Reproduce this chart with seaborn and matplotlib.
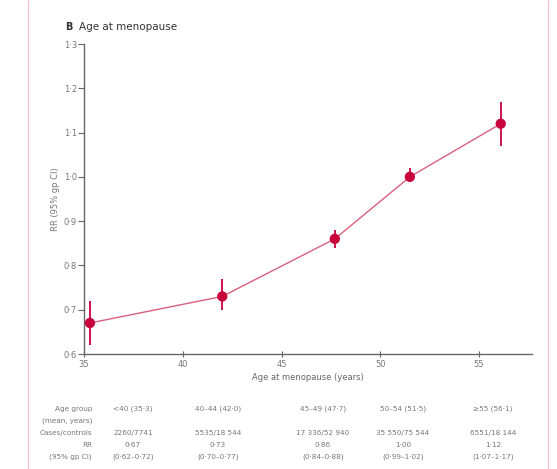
import matplotlib
matplotlib.use("Agg")
import matplotlib.pyplot as plt
import seaborn as sns
import pandas as pd
from matplotlib.lines import Line2D

# ---- data ----
mean_age = [35.3, 42.0, 47.7, 51.5, 56.1]
rr = [0.67, 0.73, 0.86, 1.00, 1.12]
ci_low = [0.62, 0.70, 0.84, 0.99, 1.07]
ci_high = [0.72, 0.77, 0.88, 1.02, 1.17]
age_groups = ["<40 (35·3)", "40–44 (42·0)", "45–49 (47·7)", "50–54 (51·5)", "≥55 (56·1)"]
cases_controls = ["2260/7741", "5535/18 544", "17 336/52 940", "35 550/75 544", "6551/18 144"]
rr_text = ["0·67", "0·73", "0·86", "1·00", "1·12"]
ci_text = ["(0·62–0·72)", "(0·70–0·77)", "(0·84–0·88)", "(0·99–1·02)", "(1·07–1·17)"]
yticks = [0.6, 0.7, 0.8, 0.9, 1.0, 1.1, 1.2, 1.3]
ytick_labels = ["0·6", "0·7", "0·8", "0·9", "1·0", "1·1", "1·2", "1·3"]
xticks = [35, 40, 45, 50, 55]

df = pd.DataFrame({"age": mean_age, "rr": rr, "lo": ci_low, "hi": ci_high})

sns.set_theme(style="white")
plt.rcParams['font.family'] = ['DejaVu Sans']

fig = plt.figure(figsize=(5.57, 4.69), dpi=100)
ax = fig.add_axes([84/557, 1-354/469, 448/557, 310/469])

red = "#c8003e"
sns.lineplot(data=df, x="age", y="rr", ax=ax, color="#d9607f", linewidth=1.0, zorder=2)
ax.vlines(df["age"], df["lo"], df["hi"], color=red, linewidth=1.3, zorder=3)
sns.scatterplot(data=df, x="age", y="rr", ax=ax, color=red, s=55, edgecolor="none", zorder=4)

ax.set_xlim(35, 35 + 448/19.75)
ax.set_ylim(0.6, 1.3)
ax.set_yticks(yticks)
ax.set_yticklabels(ytick_labels)
ax.set_xticks(xticks)
ax.set_xticklabels([str(x) for x in xticks])
for s in ["top", "right"]:
    ax.spines[s].set_visible(False)
for s in ["left", "bottom"]:
    ax.spines[s].set_color("#666666")
    ax.spines[s].set_linewidth(1.0)
ax.tick_params(axis="both", labelsize=6, colors="#666666", length=4, width=0.8,
               left=True, bottom=True, labelcolor="#777777")
ax.tick_params(axis="x", direction="inout", pad=2)
ax.tick_params(axis="y", direction="out", pad=1)
ax.set_xlabel("Age at menopause (years)", fontsize=6, color="#666666", labelpad=3)
ax.set_ylabel("RR (95% gp CI)", fontsize=6, color="#777777", labelpad=3)

fig.text(65/557, 1-27/469, "B", fontsize=7, fontweight="bold", color="#333333", va="center")
fig.text(79/557, 1-27/469, "Age at menopause", fontsize=7.5, color="#333333", va="center")

# table under the chart
label_x = 92/557
col_x = [133, 218, 323, 403, 493]
rows_y = [409, 421, 433, 445, 457]
tkw = dict(fontsize=5.2, color="#777777", va="center")
fig.text(label_x, 1-rows_y[0]/469, "Age group", ha="right", **tkw)
fig.text(label_x, 1-rows_y[1]/469, "(mean, years)", ha="right", **tkw)
fig.text(label_x, 1-rows_y[2]/469, "Cases/controls", ha="right", **tkw)
fig.text(label_x, 1-rows_y[3]/469, "RR", ha="right", **tkw)
fig.text(label_x, 1-rows_y[4]/469, "(95% gp CI)", ha="right", **tkw)
for i, cx in enumerate(col_x):
    fig.text(cx/557, 1-rows_y[0]/469, age_groups[i], ha="center", **tkw)
    fig.text(cx/557, 1-rows_y[2]/469, cases_controls[i], ha="center", **tkw)
    fig.text(cx/557, 1-rows_y[3]/469, rr_text[i], ha="center", **tkw)
    fig.text(cx/557, 1-rows_y[4]/469, ci_text[i], ha="center", **tkw)

# page border lines
fig.add_artist(Line2D([28/557, 28/557], [1-0/469, 1-469/469], color="#f4c6d4", linewidth=1.0))
fig.add_artist(Line2D([548/557, 548/557], [1-0/469, 1-469/469], color="#f4c6d4", linewidth=1.0))

fig.savefig("out.png", dpi=100)
